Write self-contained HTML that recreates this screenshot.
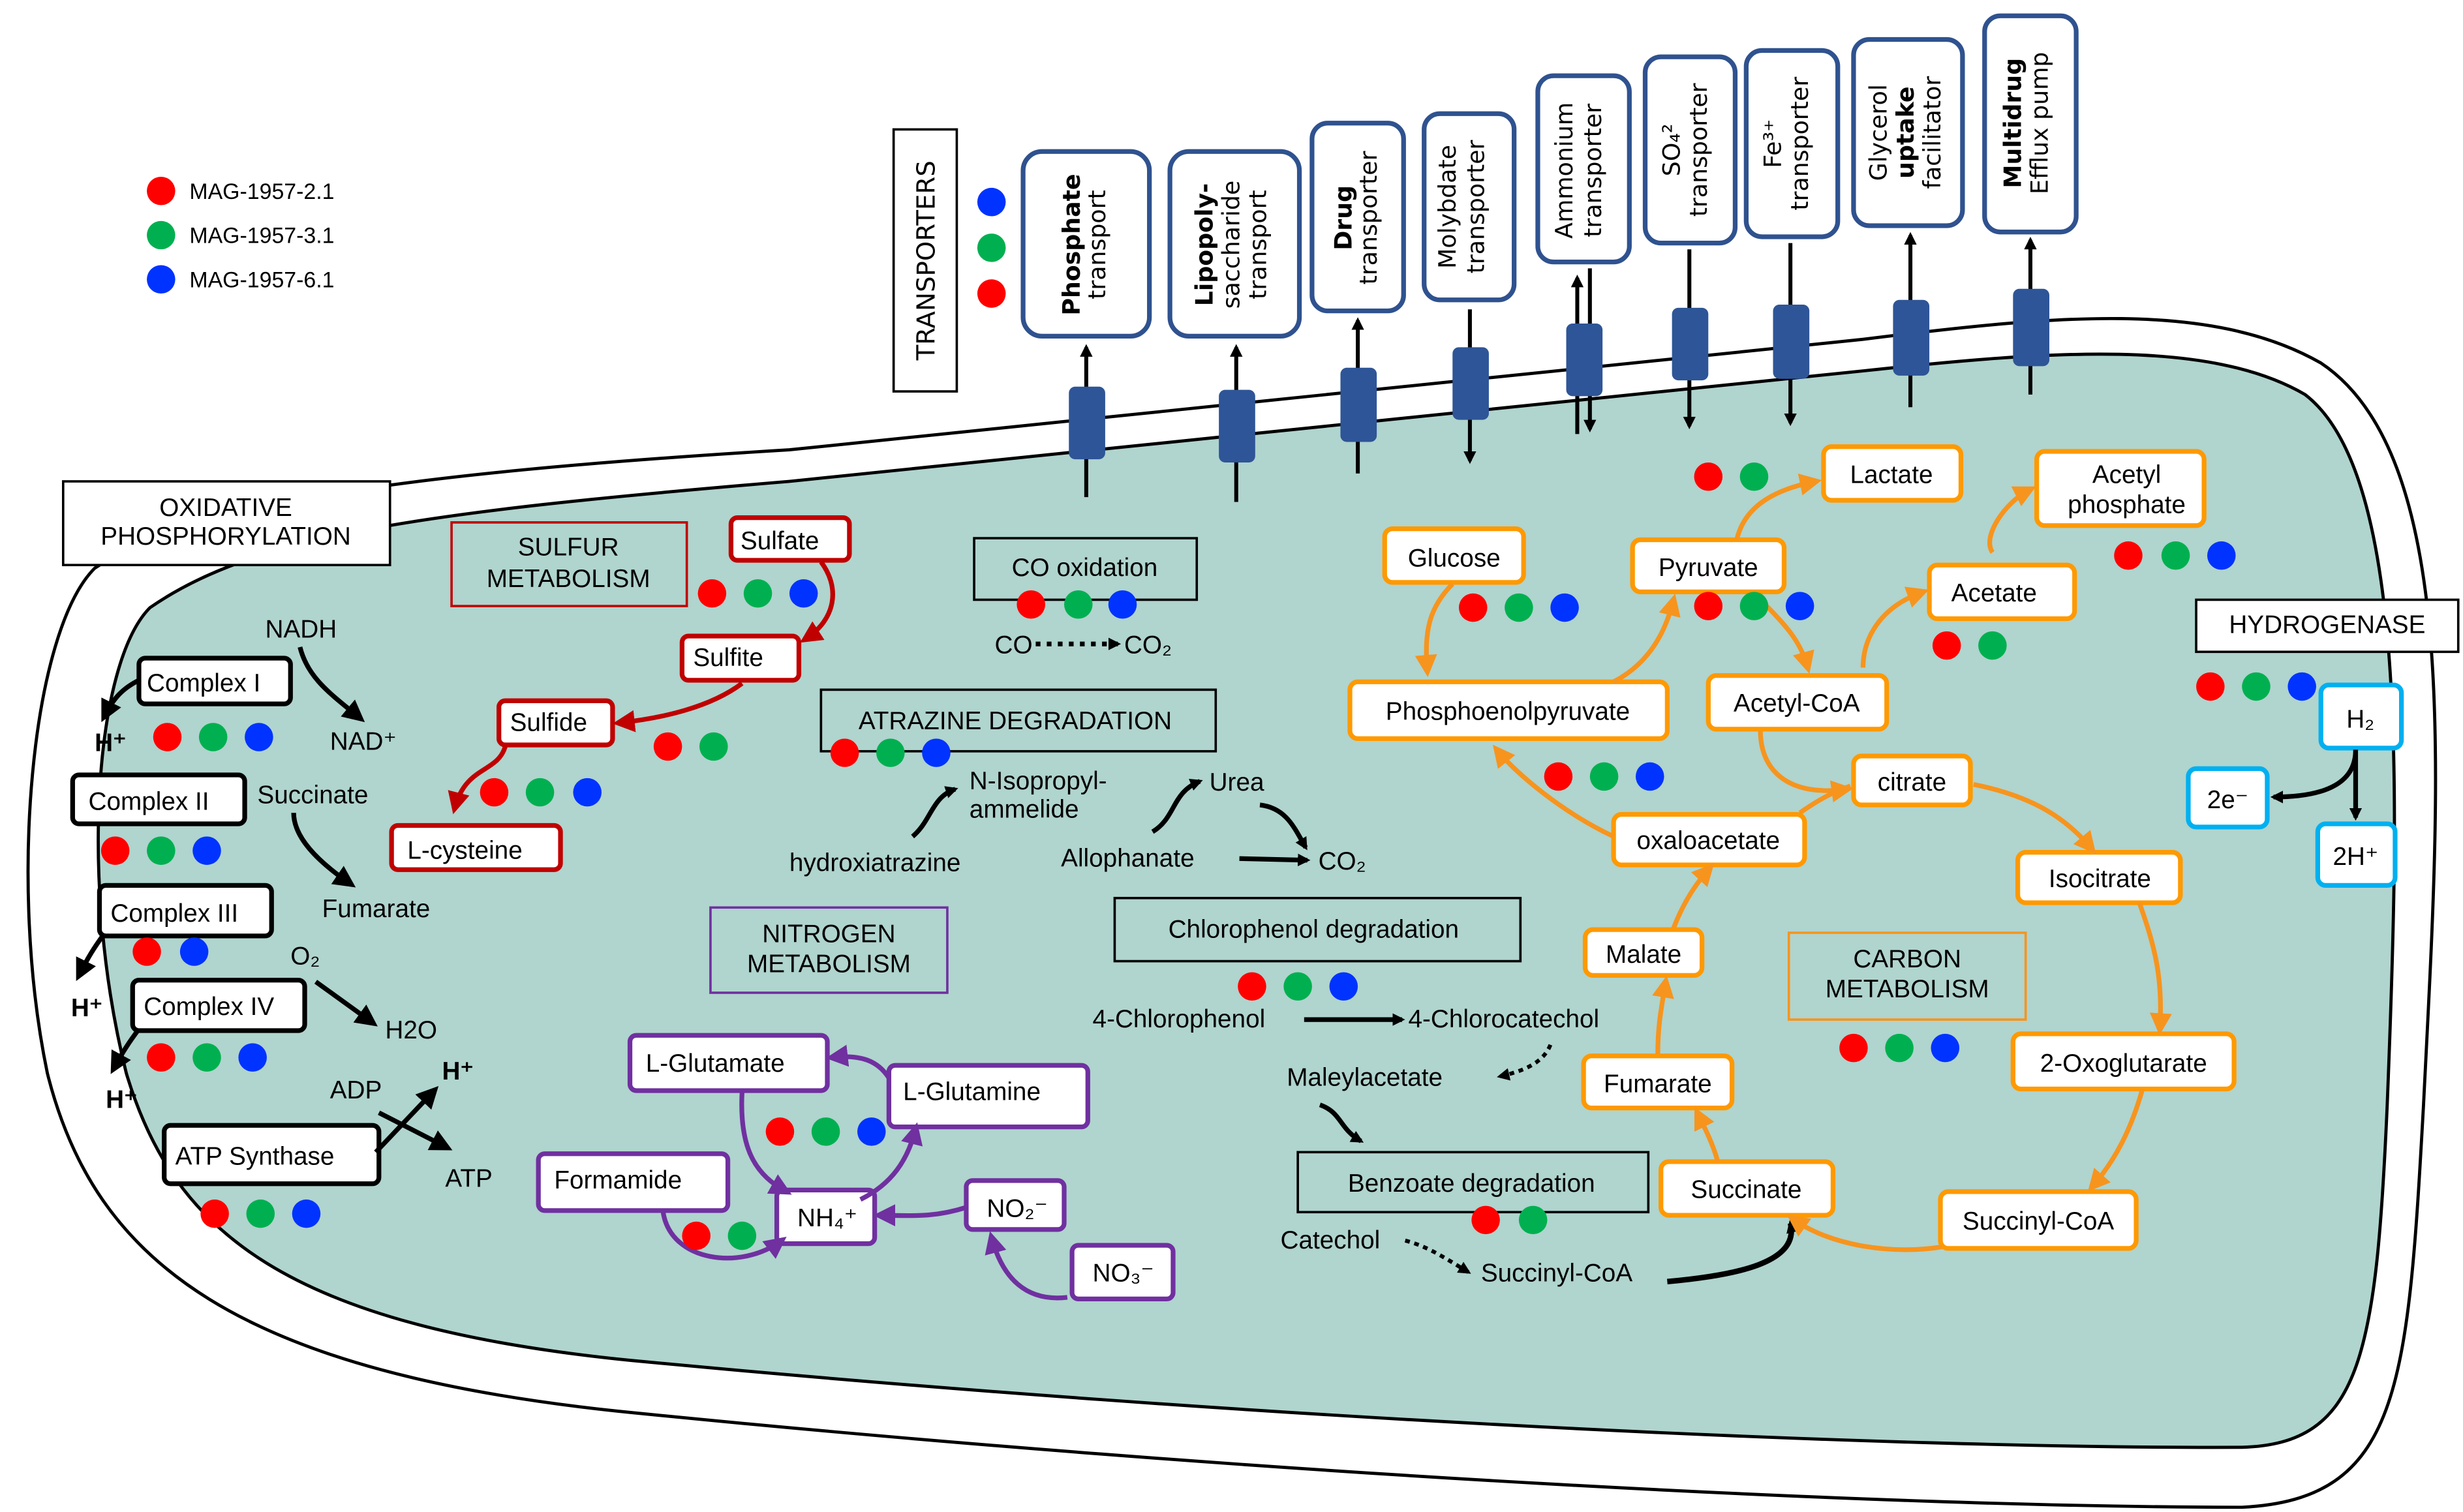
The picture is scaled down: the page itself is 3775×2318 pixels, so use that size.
<!DOCTYPE html>
<html><head><meta charset="utf-8"><style>
html,body{margin:0;padding:0;background:#fff;}
svg{display:block;}
text{font-family:"Liberation Sans",sans-serif;font-size:16px;fill:#000;}
.v{font-family:"DejaVu Sans",sans-serif;font-size:15px;}
.c{text-anchor:middle;}
</style></head><body>
<svg width="3775" height="2318" viewBox="0 0 1560 958" preserveAspectRatio="none" xmlns="http://www.w3.org/2000/svg">
<defs>
<marker id="ak" markerWidth="8" markerHeight="8" refX="6" refY="4" orient="auto" markerUnits="userSpaceOnUse"><path d="M0,0 L8,4 L0,8 z" fill="#000"/></marker>
<marker id="akb" markerWidth="14" markerHeight="14" refX="10" refY="7" orient="auto" markerUnits="userSpaceOnUse"><path d="M0,0 L14,7 L0,14 z" fill="#000"/></marker>
<marker id="ao" markerWidth="14" markerHeight="14" refX="10" refY="7" orient="auto" markerUnits="userSpaceOnUse"><path d="M0,0 L14,7 L0,14 z" fill="#f7941d"/></marker>
<marker id="ar" markerWidth="14" markerHeight="14" refX="10" refY="7" orient="auto" markerUnits="userSpaceOnUse"><path d="M0,0 L14,7 L0,14 z" fill="#c00000"/></marker>
<marker id="ap" markerWidth="14" markerHeight="14" refX="10" refY="7" orient="auto" markerUnits="userSpaceOnUse"><path d="M0,0 L14,7 L0,14 z" fill="#7030a0"/></marker>
</defs>
<path d="M60,360 C120,320 250,300 500,285 L1180,215 C1300,200 1400,190 1470,230 C1560,290 1545,500 1535,700 C1525,880 1520,950 1420,955 C1200,955 800,935 400,895 C150,870 60,800 30,680 C5,560 20,400 60,360 Z" fill="#fff" stroke="#000" stroke-width="2"/>
<path d="M95,385 C160,340 260,325 500,305 L1180,235 C1300,222 1400,215 1460,250 C1525,300 1520,500 1512,700 C1505,860 1495,915 1420,917 C1200,918 800,900 400,862 C180,840 110,780 80,680 C50,560 60,420 95,385 Z" fill="#b0d4ce" stroke="#000" stroke-width="2"/>
<circle cx="102" cy="121" r="9" fill="#f00"/><circle cx="102" cy="149" r="9" fill="#00b050"/><circle cx="102" cy="177" r="9" fill="#0033ff"/>
<text x="120" y="126" style="font-size:14px">MAG-1957-2.1</text><text x="120" y="154" style="font-size:14px">MAG-1957-3.1</text><text x="120" y="182" style="font-size:14px">MAG-1957-6.1</text>
<rect x="566" y="82" width="40" height="166" fill="#fff" stroke="#000" stroke-width="1.5"/>
<text class="v c" transform="translate(592,165) rotate(-90)" style="font-size:16px">TRANSPORTERS</text>
<circle cx="628" cy="128" r="9" fill="#0033ff"/><circle cx="628" cy="157" r="9" fill="#00b050"/><circle cx="628" cy="186" r="9" fill="#f00"/>
<g fill="#fff" stroke="#2f528f" stroke-width="3">
<rect x="648" y="96" width="80" height="117" rx="12"/>
<rect x="741" y="96" width="82" height="117" rx="12"/>
<rect x="831" y="78" width="58" height="119" rx="10"/>
<rect x="902" y="72" width="57" height="118" rx="10"/>
<rect x="974" y="48" width="58" height="118" rx="10"/>
<rect x="1042" y="36" width="57" height="118" rx="10"/>
<rect x="1106" y="32" width="58" height="118" rx="10"/>
<rect x="1174" y="25" width="69" height="118" rx="10"/>
<rect x="1257" y="10" width="58" height="137" rx="10"/>
</g>
<g class="v">
<text class="v c" transform="translate(684,155) rotate(-90)" style="font-weight:bold">Phosphate</text><text class="v c" transform="translate(700,155) rotate(-90)">transport</text>
<text class="v c" transform="translate(768,155) rotate(-90)" style="font-weight:bold">Lipopoly-</text><text class="v c" transform="translate(785,155) rotate(-90)">saccharide</text><text class="v c" transform="translate(802,155) rotate(-90)">transport</text>
<text class="v c" transform="translate(856,138) rotate(-90)" style="font-weight:bold">Drug</text><text class="v c" transform="translate(872,138) rotate(-90)">transporter</text>
<text class="v c" transform="translate(922,131) rotate(-90)">Molybdate</text><text class="v c" transform="translate(940,131) rotate(-90)">transporter</text>
<text class="v c" transform="translate(996,108) rotate(-90)">Ammonium</text><text class="v c" transform="translate(1014,108) rotate(-90)">transporter</text>
<text class="v c" transform="translate(1064,95) rotate(-90)">SO₄²</text><text class="v c" transform="translate(1081,95) rotate(-90)">transporter</text>
<text class="v c" transform="translate(1128,91) rotate(-90)">Fe³⁺</text><text class="v c" transform="translate(1145,91) rotate(-90)">transporter</text>
<text class="v c" transform="translate(1195,84) rotate(-90)">Glycerol</text><text class="v c" transform="translate(1212,84) rotate(-90)" style="font-weight:bold">uptake</text><text class="v c" transform="translate(1229,84) rotate(-90)">facilitator</text>
<text class="v c" transform="translate(1280,78) rotate(-90)" style="font-weight:bold">Multidrug</text><text class="v c" transform="translate(1297,78) rotate(-90)">Efflux pump</text>
</g>
<g stroke="#000" stroke-width="2.5" fill="none">
<line x1="688" y1="315" x2="688" y2="220" marker-end="url(#ak)"/>
<line x1="783" y1="318" x2="783" y2="220" marker-end="url(#ak)"/>
<line x1="860" y1="300" x2="860" y2="203" marker-end="url(#ak)"/>
<line x1="931" y1="196" x2="931" y2="292" marker-end="url(#ak)"/>
<line x1="999" y1="275" x2="999" y2="176" marker-end="url(#ak)"/>
<line x1="1007" y1="170" x2="1007" y2="272" marker-end="url(#ak)"/>
<line x1="1070" y1="158" x2="1070" y2="270" marker-end="url(#ak)"/>
<line x1="1134" y1="154" x2="1134" y2="268" marker-end="url(#ak)"/>
<line x1="1210" y1="258" x2="1210" y2="149" marker-end="url(#ak)"/>
<line x1="1286" y1="250" x2="1286" y2="152" marker-end="url(#ak)"/>
</g>
<g fill="#2e5597">
<rect x="677" y="245" width="23" height="46" rx="4"/><rect x="772" y="247" width="23" height="46" rx="4"/>
<rect x="849" y="233" width="23" height="47" rx="4"/><rect x="920" y="220" width="23" height="46" rx="4"/>
<rect x="992" y="205" width="23" height="46" rx="4"/><rect x="1059" y="195" width="23" height="46" rx="4"/>
<rect x="1123" y="193" width="23" height="47" rx="4"/><rect x="1199" y="190" width="23" height="48" rx="4"/>
<rect x="1275" y="183" width="23" height="49" rx="4"/>
</g>
<rect x="40" y="305" width="207" height="53" fill="#fff" stroke="#000" stroke-width="1.5"/>
<text class="c" x="143" y="327">OXIDATIVE</text><text class="c" x="143" y="345">PHOSPHORYLATION</text>
<g fill="#fff" stroke="#000" stroke-width="3">
<rect x="88" y="417" width="96" height="29" rx="4"/><rect x="46" y="491" width="109" height="31" rx="4"/>
<rect x="63" y="561" width="109" height="32" rx="4"/><rect x="84" y="621" width="109" height="32" rx="4"/>
<rect x="104" y="713" width="136" height="37" rx="4"/>
</g>
<text x="93" y="438">Complex I</text><text x="56" y="513">Complex II</text><text x="70" y="584">Complex III</text><text x="91" y="643">Complex IV</text><text x="111" y="738">ATP Synthase</text>
<g>
<circle cx="106" cy="467" r="9" fill="#f00"/><circle cx="135" cy="467" r="9" fill="#00b050"/><circle cx="164" cy="467" r="9" fill="#0033ff"/>
<circle cx="73" cy="539" r="9" fill="#f00"/><circle cx="102" cy="539" r="9" fill="#00b050"/><circle cx="131" cy="539" r="9" fill="#0033ff"/>
<circle cx="93" cy="603" r="9" fill="#f00"/><circle cx="123" cy="603" r="9" fill="#0033ff"/>
<circle cx="102" cy="670" r="9" fill="#f00"/><circle cx="131" cy="670" r="9" fill="#00b050"/><circle cx="160" cy="670" r="9" fill="#0033ff"/>
<circle cx="136" cy="769" r="9" fill="#f00"/><circle cx="165" cy="769" r="9" fill="#00b050"/><circle cx="194" cy="769" r="9" fill="#0033ff"/>
</g>
<text x="168" y="404">NADH</text><text x="209" y="475">NAD⁺</text><text x="163" y="509">Succinate</text><text x="204" y="581">Fumarate</text>
<text x="184" y="611">O₂</text><text x="244" y="658">H2O</text><text x="209" y="696">ADP</text><text x="280" y="684" style="font-weight:bold">H⁺</text><text x="282" y="752">ATP</text>
<text x="60" y="476" style="font-weight:bold">H⁺</text><text x="45" y="644" style="font-weight:bold">H⁺</text><text x="67" y="702" style="font-weight:bold">H⁺</text>
<g stroke="#000" stroke-width="3" fill="none">
<path d="M190,410 C195,430 210,440 228,455" marker-end="url(#akb)"/>
<path d="M186,515 C186,530 200,545 222,560" marker-end="url(#akb)"/>
<path d="M200,622 L236,648" marker-end="url(#akb)"/>
<path d="M238,730 L275,691" marker-end="url(#akb)"/>
<path d="M240,705 L283,727" marker-end="url(#akb)"/>
<path d="M88,431 C78,436 72,442 66,454" marker-end="url(#akb)"/>
<path d="M65,593 C60,600 56,606 50,618" marker-end="url(#akb)"/>
<path d="M88,652 C82,660 78,666 72,677" marker-end="url(#akb)"/>
</g>
<rect x="286" y="331" width="149" height="53" fill="none" stroke="#c00000" stroke-width="1.5"/>
<text class="c" x="360" y="352">SULFUR</text><text class="c" x="360" y="372">METABOLISM</text>
<g fill="#fff" stroke="#c00000" stroke-width="3">
<rect x="463" y="328" width="75" height="27" rx="4"/><rect x="432" y="403" width="74" height="28" rx="4"/>
<rect x="316" y="444" width="72" height="28" rx="4"/><rect x="248" y="523" width="107" height="28" rx="4"/>
</g>
<text x="469" y="348">Sulfate</text><text x="439" y="422">Sulfite</text><text x="323" y="463">Sulfide</text><text x="258" y="544">L-cysteine</text>
<g stroke="#c00000" stroke-width="3" fill="none">
<path d="M520,356 C532,372 530,392 510,405" marker-end="url(#ar)"/>
<path d="M470,433 C450,448 420,455 392,458" marker-end="url(#ar)"/>
<path d="M320,473 C315,490 295,485 288,512" marker-end="url(#ar)"/>
</g>
<circle cx="451" cy="376" r="9" fill="#f00"/><circle cx="480" cy="376" r="9" fill="#00b050"/><circle cx="509" cy="376" r="9" fill="#0033ff"/>
<circle cx="423" cy="473" r="9" fill="#f00"/><circle cx="452" cy="473" r="9" fill="#00b050"/>
<circle cx="313" cy="502" r="9" fill="#f00"/><circle cx="342" cy="502" r="9" fill="#00b050"/><circle cx="372" cy="502" r="9" fill="#0033ff"/>
<rect x="617" y="341" width="141" height="39" fill="none" stroke="#000" stroke-width="1.5"/>
<text class="c" x="687" y="365">CO oxidation</text>
<circle cx="653" cy="383" r="9" fill="#f00"/><circle cx="683" cy="383" r="9" fill="#00b050"/><circle cx="711" cy="383" r="9" fill="#0033ff"/>
<text x="630" y="414">CO</text><text x="712" y="414">CO₂</text>
<line x1="656" y1="408" x2="708" y2="408" stroke="#000" stroke-width="3" stroke-dasharray="3,4" marker-end="url(#ak)"/>
<rect x="520" y="437" width="250" height="39" fill="none" stroke="#000" stroke-width="1.5"/>
<text class="c" x="643" y="462">ATRAZINE DEGRADATION</text>
<circle cx="535" cy="477" r="9" fill="#f00"/><circle cx="564" cy="477" r="9" fill="#00b050"/><circle cx="593" cy="477" r="9" fill="#0033ff"/>
<text x="614" y="500">N-Isopropyl-</text><text x="614" y="518">ammelide</text>
<text x="500" y="552">hydroxiatrazine</text><text x="766" y="501">Urea</text><text x="672" y="549">Allophanate</text><text x="835" y="551">CO₂</text>
<g stroke="#000" stroke-width="3" fill="none">
<path d="M578,530 C590,520 590,505 605,500" marker-end="url(#ak)"/>
<path d="M730,527 C745,518 742,502 760,495" marker-end="url(#ak)"/>
<path d="M798,510 C815,512 820,525 827,537" marker-end="url(#ak)"/>
<path d="M785,544 L828,545" marker-end="url(#ak)"/>
</g>
<rect x="706" y="569" width="257" height="40" fill="none" stroke="#000" stroke-width="1.5"/>
<text class="c" x="832" y="594">Chlorophenol degradation</text>
<circle cx="793" cy="625" r="9" fill="#f00"/><circle cx="822" cy="625" r="9" fill="#00b050"/><circle cx="851" cy="625" r="9" fill="#0033ff"/>
<text x="692" y="651">4-Chlorophenol</text><text x="892" y="651">4-Chlorocatechol</text><text x="815" y="688">Maleylacetate</text>
<line x1="826" y1="646" x2="888" y2="646" stroke="#000" stroke-width="3" marker-end="url(#ak)"/>
<path d="M982,662 C978,672 968,678 950,682" stroke="#000" stroke-width="2.5" stroke-dasharray="3,3" fill="none" marker-end="url(#ak)"/>
<path d="M836,700 C850,705 848,715 862,723" stroke="#000" stroke-width="3" fill="none" marker-end="url(#ak)"/>
<rect x="822" y="730" width="222" height="38" fill="none" stroke="#000" stroke-width="1.5"/>
<text class="c" x="932" y="755">Benzoate degradation</text>
<circle cx="941" cy="773" r="9" fill="#f00"/><circle cx="971" cy="773" r="9" fill="#00b050"/>
<text x="811" y="791">Catechol</text><text x="938" y="812">Succinyl-CoA</text>
<path d="M890,786 C905,790 915,797 930,806" stroke="#000" stroke-width="2.5" stroke-dasharray="3,3" fill="none" marker-end="url(#ak)"/>
<path d="M1056,812 C1100,808 1140,800 1134,775" stroke="#000" stroke-width="3.5" fill="none" marker-end="url(#ak)"/>
<rect x="450" y="575" width="150" height="54" fill="none" stroke="#7030a0" stroke-width="1.5"/>
<text class="c" x="525" y="597">NITROGEN</text><text class="c" x="525" y="616">METABOLISM</text>
<g fill="#fff" stroke="#7030a0" stroke-width="3">
<rect x="399" y="656" width="125" height="35" rx="4"/><rect x="563" y="675" width="126" height="39" rx="4"/>
<rect x="341" y="731" width="120" height="36" rx="4"/><rect x="492" y="754" width="62" height="34" rx="4"/>
<rect x="612" y="748" width="62" height="31" rx="4"/><rect x="679" y="789" width="64" height="34" rx="4"/>
</g>
<text x="409" y="679">L-Glutamate</text><text x="572" y="697">L-Glutamine</text><text x="351" y="753">Formamide</text>
<text x="505" y="777">NH₄⁺</text><text x="625" y="771">NO₂⁻</text><text x="692" y="812">NO₃⁻</text>
<g stroke="#7030a0" stroke-width="3" fill="none">
<path d="M563,683 C556,672 545,668 527,670" marker-end="url(#ap)"/>
<path d="M470,692 C468,730 480,745 498,755" marker-end="url(#ap)"/>
<path d="M545,760 C565,750 575,735 580,715" marker-end="url(#ap)"/>
<path d="M612,765 C590,772 575,770 557,770" marker-end="url(#ap)"/>
<path d="M420,768 C425,800 470,805 495,786" marker-end="url(#ap)"/>
<path d="M676,822 C650,825 635,810 628,784" marker-end="url(#ap)"/>
</g>
<circle cx="494" cy="717" r="9" fill="#f00"/><circle cx="523" cy="717" r="9" fill="#00b050"/><circle cx="552" cy="717" r="9" fill="#0033ff"/>
<circle cx="441" cy="783" r="9" fill="#f00"/><circle cx="470" cy="783" r="9" fill="#00b050"/>
<rect x="1133" y="591" width="150" height="55" fill="none" stroke="#f7941d" stroke-width="1.5"/>
<text class="c" x="1208" y="613">CARBON</text><text class="c" x="1208" y="632">METABOLISM</text>
<g fill="#fff" stroke="#ff9900" stroke-width="3">
<rect x="877" y="335" width="88" height="34" rx="5"/><rect x="1034" y="342" width="96" height="33" rx="5"/>
<rect x="1155" y="283" width="87" height="34" rx="5"/><rect x="1290" y="286" width="106" height="47" rx="5"/>
<rect x="1222" y="358" width="92" height="34" rx="5"/><rect x="855" y="432" width="201" height="36" rx="5"/>
<rect x="1082" y="428" width="113" height="34" rx="5"/><rect x="1174" y="479" width="74" height="31" rx="5"/>
<rect x="1022" y="516" width="121" height="32" rx="5"/><rect x="1278" y="540" width="103" height="32" rx="5"/>
<rect x="1004" y="589" width="74" height="29" rx="5"/><rect x="1275" y="655" width="140" height="35" rx="5"/>
<rect x="1003" y="669" width="94" height="33" rx="5"/><rect x="1052" y="736" width="109" height="34" rx="5"/>
<rect x="1229" y="755" width="124" height="36" rx="5"/>
</g>
<text class="c" x="921" y="359">Glucose</text><text class="c" x="1082" y="365">Pyruvate</text><text class="c" x="1198" y="306">Lactate</text>
<text class="c" x="1347" y="306">Acetyl</text><text class="c" x="1347" y="325">phosphate</text><text class="c" x="1263" y="381">Acetate</text>
<text class="c" x="955" y="456">Phosphoenolpyruvate</text><text class="c" x="1138" y="451">Acetyl-CoA</text><text class="c" x="1211" y="501">citrate</text>
<text class="c" x="1082" y="538">oxaloacetate</text><text class="c" x="1330" y="562">Isocitrate</text><text class="c" x="1041" y="610">Malate</text>
<text class="c" x="1345" y="679">2-Oxoglutarate</text><text class="c" x="1050" y="692">Fumarate</text><text class="c" x="1106" y="759">Succinate</text>
<text class="c" x="1291" y="779">Succinyl-CoA</text>
<g stroke="#f7941d" stroke-width="3" fill="none">
<path d="M920,370 C905,385 902,400 904,425" marker-end="url(#ao)"/>
<path d="M1022,432 C1045,420 1055,400 1060,380" marker-end="url(#ao)"/>
<path d="M1100,342 C1105,320 1125,310 1150,305" marker-end="url(#ao)"/>
<path d="M1112,377 C1130,395 1140,405 1145,423" marker-end="url(#ao)"/>
<path d="M1262,350 C1255,340 1270,318 1286,310" marker-end="url(#ao)"/>
<path d="M1180,423 C1180,405 1190,385 1218,375" marker-end="url(#ao)"/>
<path d="M1115,463 C1115,490 1135,505 1170,500" marker-end="url(#ao)"/>
<path d="M1140,515 C1150,508 1160,502 1172,498"/>
<path d="M1022,530 C990,515 960,490 948,475" marker-end="url(#ao)"/>
<path d="M1250,497 C1290,505 1310,520 1325,538" marker-end="url(#ao)"/>
<path d="M1355,572 C1365,600 1370,620 1368,652" marker-end="url(#ao)"/>
<path d="M1357,690 C1350,715 1340,735 1325,752" marker-end="url(#ao)"/>
<path d="M1230,790 C1200,795 1160,790 1135,772" marker-end="url(#ao)"/>
<path d="M1088,736 C1085,725 1080,715 1075,705" marker-end="url(#ao)"/>
<path d="M1050,668 C1050,650 1052,640 1055,622" marker-end="url(#ao)"/>
<path d="M1060,588 C1065,575 1072,562 1083,550" marker-end="url(#ao)"/>
</g>
<circle cx="1082" cy="302" r="9" fill="#f00"/><circle cx="1111" cy="302" r="9" fill="#00b050"/>
<circle cx="1348" cy="352" r="9" fill="#f00"/><circle cx="1378" cy="352" r="9" fill="#00b050"/><circle cx="1407" cy="352" r="9" fill="#0033ff"/>
<circle cx="933" cy="385" r="9" fill="#f00"/><circle cx="962" cy="385" r="9" fill="#00b050"/><circle cx="991" cy="385" r="9" fill="#0033ff"/>
<circle cx="1082" cy="384" r="9" fill="#f00"/><circle cx="1111" cy="384" r="9" fill="#00b050"/><circle cx="1140" cy="384" r="9" fill="#0033ff"/>
<circle cx="1233" cy="409" r="9" fill="#f00"/><circle cx="1262" cy="409" r="9" fill="#00b050"/>
<circle cx="987" cy="492" r="9" fill="#f00"/><circle cx="1016" cy="492" r="9" fill="#00b050"/><circle cx="1045" cy="492" r="9" fill="#0033ff"/>
<circle cx="1174" cy="664" r="9" fill="#f00"/><circle cx="1203" cy="664" r="9" fill="#00b050"/><circle cx="1232" cy="664" r="9" fill="#0033ff"/>
<rect x="1391" y="380" width="166" height="33" fill="#fff" stroke="#000" stroke-width="1.5"/>
<text class="c" x="1474" y="401">HYDROGENASE</text>
<circle cx="1400" cy="435" r="9" fill="#f00"/><circle cx="1429" cy="435" r="9" fill="#00b050"/><circle cx="1458" cy="435" r="9" fill="#0033ff"/>
<g fill="#fff" stroke="#00b0f0" stroke-width="3">
<rect x="1470" y="434" width="51" height="40" rx="5"/><rect x="1386" y="487" width="50" height="37" rx="5"/><rect x="1468" y="522" width="49" height="39" rx="5"/>
</g>
<text class="c" x="1495" y="461">H₂</text><text class="c" x="1411" y="512">2e⁻</text><text class="c" x="1492" y="548">2H⁺</text>
<g stroke="#000" stroke-width="3" fill="none">
<path d="M1492,475 C1492,495 1475,505 1440,505" marker-end="url(#ak)"/>
<path d="M1492,475 L1492,518" marker-end="url(#ak)"/>
</g>
</svg>
</body></html>
